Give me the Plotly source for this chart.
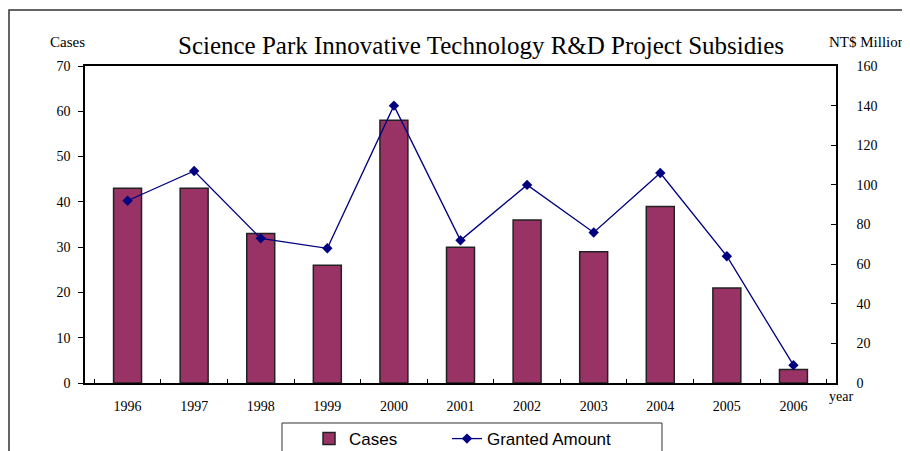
import plotly.graph_objects as go

# Daten
years = ["1996", "1997", "1998", "1999", "2000", "2001", "2002", "2003", "2004", "2005", "2006"]
cases = [43, 43, 33, 26, 58, 30, 36, 29, 39, 21, 3]
granted_amount = [92, 107, 73, 68, 140, 72, 100, 76, 106, 64, 9]

serif = "Liberation Serif, Times New Roman, serif"
sans = "Liberation Sans, Arial, sans-serif"

fig = go.Figure()

# Balken: Fälle
fig.add_trace(go.Bar(
    x=years,
    y=cases,
    name="Cases",
    marker=dict(color="#993366", line=dict(color="#222222", width=1.5)),
    yaxis="y",
    legend="legend"
))

# Linie: bewilligter Betrag
fig.add_trace(go.Scatter(
    x=years,
    y=granted_amount,
    name="Granted Amount",
    mode="lines+markers",
    line=dict(color="#000080", width=1.3),
    marker=dict(symbol="diamond", size=8, color="#000080"),
    yaxis="y2",
    legend="legend2"
))

legend_style = dict(
    orientation="h",
    xanchor="left",
    y=-0.12, yanchor="top",
    bgcolor="rgba(0,0,0,0)",
    borderwidth=0,
    font=dict(family=sans, size=17, color="black"),
)

# Seite hat 8px Rand -> Figur etwas kleiner
fig.update_layout(
    width=902,
    height=443,
    margin=dict(l=77, r=74, t=58, b=68, autoexpand=False),
    paper_bgcolor="white",
    plot_bgcolor="white",
    bargap=0.58,
    showlegend=True,
    font=dict(family=serif, size=14, color="black"),
    title=dict(
        text="Science Park Innovative Technology R&D Project Subsidies",
        font=dict(family=serif, size=25, color="black"),
        x=0.5244, xanchor="center",
        y=0.9165, yanchor="middle"
    ),
    xaxis=dict(
        type="category",
        automargin=False,
        showline=True, linecolor="black", linewidth=1.5,
        mirror=True,
        ticks="inside", tickson="boundaries", ticklen=4, tickcolor="black",
        tickfont=dict(family=serif, size=14),
        ticklabelstandoff=9,
        showgrid=False
    ),
    yaxis=dict(
        range=[0, 70], dtick=10,
        automargin=False,
        showline=True, linecolor="black", linewidth=1.5,
        ticks="outside", ticklen=5, tickcolor="black",
        tickfont=dict(family=serif, size=14),
        ticklabelstandoff=5,
        showgrid=False, zeroline=False
    ),
    yaxis2=dict(
        range=[0, 160], dtick=20,
        automargin=False,
        overlaying="y", side="right",
        showline=True, linecolor="black", linewidth=1.5,
        ticks="inside", ticklen=5, tickcolor="black",
        tickfont=dict(family=serif, size=14),
        ticklabelstandoff=16,
        showgrid=False, zeroline=False
    ),
    legend=dict(x=0.2983, **legend_style),
    legend2=dict(x=0.482, **legend_style),
    annotations=[
        dict(text="Cases", xref="paper", yref="paper", x=-0.0233, y=1.075,
             xanchor="center", yanchor="middle", showarrow=False,
             font=dict(family=serif, size=15)),
        dict(text="NT$ Million", xref="paper", yref="paper", x=0.988, y=1.075,
             xanchor="left", yanchor="middle", showarrow=False,
             font=dict(family=serif, size=15)),
        dict(text="year", xref="paper", yref="paper", x=0.988, y=-0.044,
             xanchor="left", yanchor="middle", showarrow=False,
             font=dict(family=serif, size=14)),
    ],
    shapes=[
        # äußerer Rahmen
        dict(type="rect", xref="paper", yref="paper",
             x0=-0.1012, x1=1.2, y0=-0.4, y1=1.1767,
             line=dict(color="#333333", width=1.5), layer="below"),
        # Legendenrahmen
        dict(type="rect", xref="paper", yref="paper",
             x0=0.2623, x1=0.7683, y0=-0.3, y1=-0.1262,
             line=dict(color="#333333", width=1), layer="below"),
    ]
)

fig.write_html("out.html")
